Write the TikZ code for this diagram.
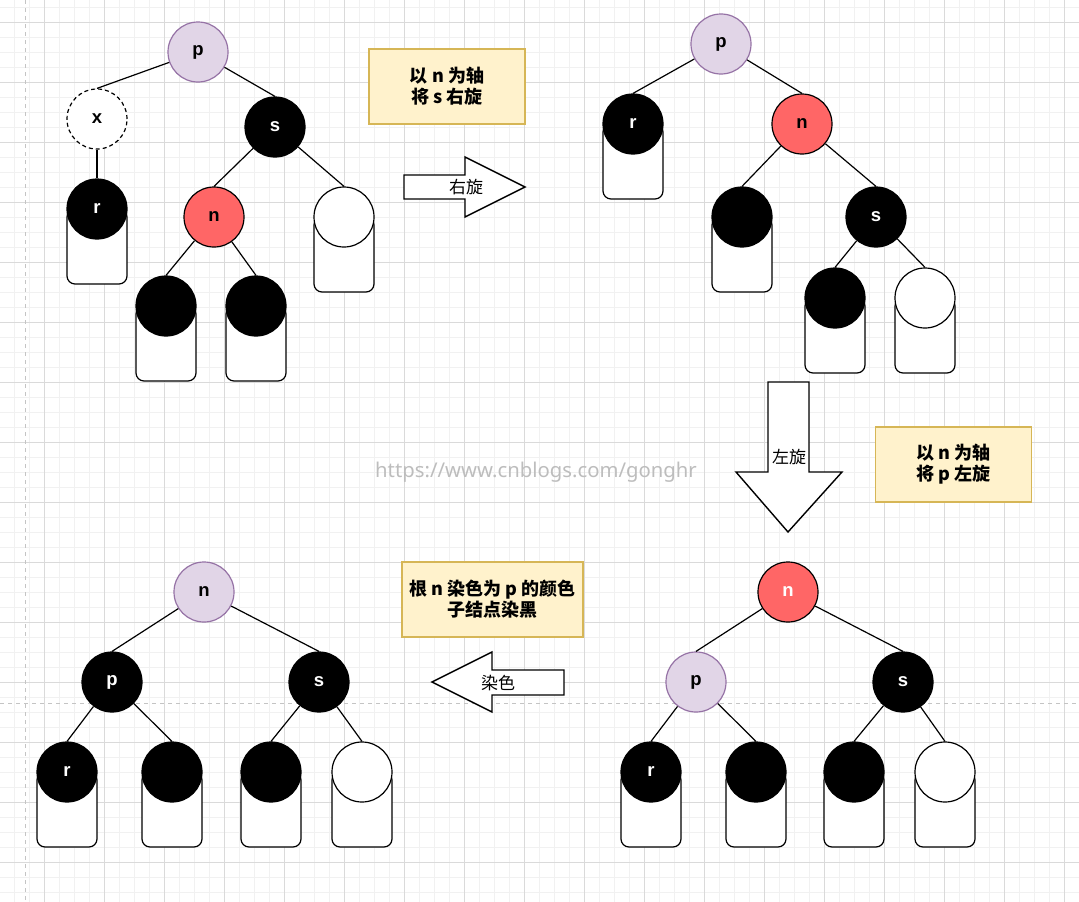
\documentclass[tikz,border=0pt]{standalone}
\usepackage{fontspec}
\setmainfont{Liberation Sans}
\newfontfamily\cjk{Noto Sans CJK SC}
\newfontfamily\wmfont{Noto Sans}
\definecolor{gmajor}{HTML}{DADADA}
\definecolor{gminor}{HTML}{F1F1F1}
\definecolor{guide}{HTML}{C4C4C4}
\definecolor{redfill}{HTML}{FF6666}
\definecolor{purfill}{HTML}{E1D5E7}
\definecolor{purline}{HTML}{9673A6}
\definecolor{notefill}{HTML}{FFF2CC}
\definecolor{noteline}{HTML}{D6B656}
\definecolor{wmark}{HTML}{BDBDBD}
\newcommand\leafnode[5]{%
  \draw[leafrect] ({#2-30},{#3}) rectangle ({#2+30},{#3+75});
  \node[#4] (#1) at (#2,#3) {#5};}
\begin{document}
\begin{tikzpicture}[x=1pt,y=-1pt,
  tn/.style={circle,minimum size=60pt,inner sep=0pt,line width=1.2pt,
    font=\fontsize{18.5}{21}\selectfont\bfseries},
  blk/.style={tn,draw=black,fill=black,text=white},
  red/.style={tn,draw=black,fill=redfill,text=black},
  redw/.style={red,text=white},
  pur/.style={tn,draw=purline,fill=purfill,text=black},
  wht/.style={tn,draw=black,fill=white},
  dsh/.style={tn,draw=black,fill=white,dashed,dash pattern=on 4pt off 3pt},
  leafrect/.style={draw=black,fill=white,line width=1.2pt,rounded corners=8pt},
  edge/.style={draw=black,line width=1.2pt},
  note/.style={draw=noteline,fill=notefill,line width=1.2pt,minimum width=156pt,
    minimum height=75pt,align=center,inner sep=0pt,
    font=\cjk\fontsize{18}{21}\selectfont\bfseries},
  blockarrow/.style={draw=black,fill=white,line width=1.4pt,line join=miter},
  albl/.style={font=\cjk\fontsize{17}{20}\selectfont,inner sep=0pt}
]
\useasboundingbox (0,0) rectangle (1079,902);
\fill[white] (0,0) rectangle (1079,902);
% grid
\foreach \i in {0,...,72} \draw[gminor,line width=1pt] ({-1+15*\i},0) -- ({-1+15*\i},902);
\foreach \i in {0,...,60} \draw[gminor,line width=1pt] (0,{7+15*\i}) -- (1079,{7+15*\i});
\foreach \i in {0,...,17} \draw[gmajor,line width=1pt] ({44+60*\i},0) -- ({44+60*\i},902);
\foreach \i in {0,...,14} \draw[gmajor,line width=1pt] (0,{22+60*\i}) -- (1079,{22+60*\i});
\draw[guide,line width=1pt,dash pattern=on 4pt off 4pt] (25,0) -- (25,902);
\draw[guide,line width=1pt,dash pattern=on 4pt off 4pt] (0,703) -- (1079,703);

% watermark
\node[text=wmark,font=\wmfont\fontsize{20.3}{24}\selectfont,inner sep=0pt] (wm) at (536,472) {https://www.cnblogs.com/gonghr};

% ---------- tree 1 (top left)
\node[pur] (a1p) at (198,52) {p};
\node[dsh] (a1x) at (97,119) {x};
\leafnode{a1r}{97}{209}{blk}{r}
\node[blk] (a1s) at (275,127) {s};
\node[red] (a1n) at (214,217) {n};
\leafnode{a1w}{344}{217}{wht}{}
\leafnode{a1b1}{166}{306}{blk}{}
\leafnode{a1b2}{256}{306}{blk}{}
\draw[edge] (a1p) -- (a1x.north);
\draw[edge] (a1x) -- (a1r.north);
\draw[edge] (a1p) -- (a1s.north);
\draw[edge] (a1s) -- (a1n.north);
\draw[edge] (a1s) -- (a1w.north);
\draw[edge] (a1n) -- (a1b1.north);
\draw[edge] (a1n) -- (a1b2.north);

% ---------- tree 2 (top right)
\node[pur] (a2p) at (721,44) {p};
\leafnode{a2r}{633}{124}{blk}{r}
\node[red] (a2n) at (802,124) {n};
\leafnode{a2b}{742}{217}{blk}{}
\node[blk] (a2s) at (876,217) {s};
\leafnode{a2b2}{835}{298}{blk}{}
\leafnode{a2w}{925}{298}{wht}{}
\draw[edge] (a2p) -- (a2r.north);
\draw[edge] (a2p) -- (a2n.north);
\draw[edge] (a2n) -- (a2b.north);
\draw[edge] (a2n) -- (a2s.north);
\draw[edge] (a2s) -- (a2b2.north);
\draw[edge] (a2s) -- (a2w.north);

% ---------- tree 3 (bottom right)
\node[redw] (a3n) at (788,592) {n};
\node[pur] (a3p) at (696,682) {p};
\node[blk] (a3s) at (903,682) {s};
\leafnode{a3r}{651}{772}{blk}{r}
\leafnode{a3b}{756}{772}{blk}{}
\leafnode{a3b2}{854}{772}{blk}{}
\leafnode{a3w}{945}{772}{wht}{}
\draw[edge] (a3n) -- (a3p.north);
\draw[edge] (a3n) -- (a3s.north);
\draw[edge] (a3p) -- (a3r.north);
\draw[edge] (a3p) -- (a3b.north);
\draw[edge] (a3s) -- (a3b2.north);
\draw[edge] (a3s) -- (a3w.north);

% ---------- tree 4 (bottom left)
\node[pur] (a4n) at (204,592) {n};
\node[blk] (a4p) at (112,682) {p};
\node[blk] (a4s) at (319,682) {s};
\leafnode{a4r}{67}{772}{blk}{r}
\leafnode{a4b}{172}{772}{blk}{}
\leafnode{a4b2}{271}{772}{blk}{}
\leafnode{a4w}{362}{772}{wht}{}
\draw[edge] (a4n) -- (a4p.north);
\draw[edge] (a4n) -- (a4s.north);
\draw[edge] (a4p) -- (a4r.north);
\draw[edge] (a4p) -- (a4b.north);
\draw[edge] (a4s) -- (a4b2.north);
\draw[edge] (a4s) -- (a4w.north);

% ---------- notes
\node[note] (n1) at (447,86.5) {以 n 为轴\\将 s 右旋};
\node[note] (n2) at (953.5,464.5) {以 n 为轴\\将 p 左旋};
\node[note,minimum width=181pt] (n3) at (492.5,599.5) {根 n 染色为 p 的颜色\\子结点染黑};

% ---------- block arrows
\draw[blockarrow] (404,175) -- (465,175) -- (465,157) -- (525,187) -- (465,217) -- (465,199) -- (404,199) -- cycle;
\node[albl] (l1) at (466,187) {右旋};
\draw[blockarrow] (768,382) -- (809,382) -- (809,472) -- (842,472) -- (788,532) -- (736,472) -- (768,472) -- cycle;
\node[albl] (l2) at (789,457) {左旋};
\draw[blockarrow] (564,670) -- (492,670) -- (492,652) -- (432,682) -- (492,712) -- (492,695) -- (564,695) -- cycle;
\node[albl] (l3) at (498,683) {染色};
\end{tikzpicture}
\end{document}
